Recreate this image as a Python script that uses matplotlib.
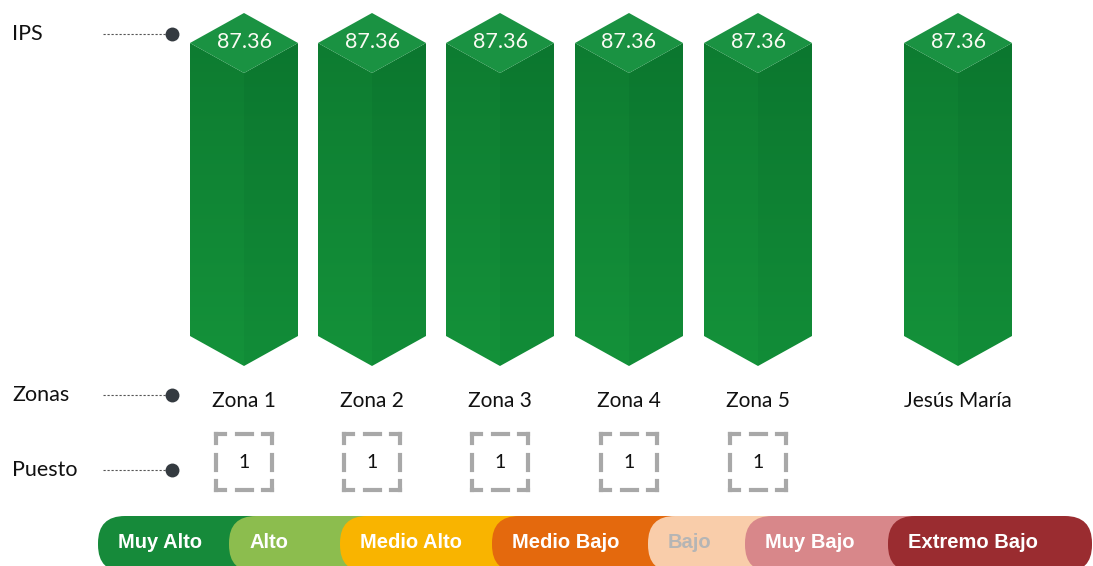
import numpy as np
import matplotlib.pyplot as plt
from matplotlib.patches import Polygon, FancyBboxPatch
from matplotlib.colors import LinearSegmentedColormap

# datos
zonas = ['Zona 1', 'Zona 2', 'Zona 3', 'Zona 4', 'Zona 5', 'Jesús María']
ips = [87.36, 87.36, 87.36, 87.36, 87.36, 87.36]
puesto = [1, 1, 1, 1, 1]
niveles = ['Muy Alto', 'Alto', 'Medio Alto', 'Medio Bajo', 'Bajo', 'Muy Bajo', 'Extremo Bajo']
colores_nivel = ['#168a3a', '#8cbd4e', '#f9b400', '#e4690d', '#f9cdaa', '#d8878a', '#9a2c30']
texto_nivel = ['white', 'white', 'white', 'white', '#b5b5b5', 'white', 'white']

# layout (pixeles)
W, H = 1093, 566
x_centros = [244, 372, 500, 629, 758, 958]
x_pildoras = [98, 229, 340, 492, 648, 745, 888]
fin_leyenda = 1092
y_top, y_base = 13, 366

fuente = 'Lato'

fig = plt.figure(figsize=(W / 100, H / 100), dpi=100)

# capa en pixeles: etiquetas, puestos y leyenda
ax = fig.add_axes([0, 0, 1, 1])
ax.set_xlim(0, W)
ax.set_ylim(H, 0)
ax.axis('off')

# columnas en unidades de IPS
axb = fig.add_axes([0, (H - y_base) / H, 1, (y_base - y_top) / H])
axb.axis('off')

px_unit = (y_base - y_top) / max(ips)
dv = 30 / px_unit
w = 54
grad = np.linspace(0, 1, 256).reshape(-1, 1)
cm_izq = LinearSegmentedColormap.from_list('izq', ['#14923a', '#0d7a30'])
cm_der = LinearSegmentedColormap.from_list('der', ['#128d38', '#0b752e'])

for cx, v in zip(x_centros, ips):
    izq = [(cx - w, v - dv), (cx, v - 2 * dv), (cx, 0), (cx - w, dv)]
    der = [(cx, v - 2 * dv), (cx + w, v - dv), (cx + w, dv), (cx, 0)]
    tapa = [(cx, v), (cx + w, v - dv), (cx, v - 2 * dv), (cx - w, v - dv)]
    for pts, cm in [(izq, cm_izq), (der, cm_der)]:
        poly = Polygon(pts, closed=True, facecolor='none', edgecolor='none')
        axb.add_patch(poly)
        im = axb.imshow(grad, extent=[cx - w, cx + w, 0, v], aspect='auto',
                        cmap=cm, origin='lower', interpolation='bilinear')
        im.set_clip_path(poly)
    axb.add_patch(Polygon(tapa, closed=True, facecolor='#1a9242', edgecolor='none'))
    axb.text(cx, v - dv * 0.95, f'{v:.2f}', color='#fbfbf3', fontsize=15.5,
             family=fuente, ha='center', va='center')

axb.set_xlim(0, W)
axb.set_ylim(0, max(ips))

# etiquetas de la izquierda
for txt, y in [('IPS', 34), ('Zonas', 395), ('Puesto', 470)]:
    ax.text(12, y, txt, fontsize=15.5, family=fuente, color='#111111', va='center', ha='left')
    ax.plot([103, 168], [y, y], ls=(0, (2, 1.6)), color='#555555', lw=0.8)
    ax.plot(172, y, 'o', ms=10, color='#343a40', mec='none')

# nombres de zonas
for cx, z in zip(x_centros, zonas):
    ax.text(cx, 401, z, fontsize=15, family=fuente, color='#111111', ha='center', va='center')

# puestos en cuadros punteados
s = 56
segs = [(0, 9), (20.5, 35.5), (47, 56)]
gris = '#a8a8a8'
for cx, p in zip(x_centros, puesto):
    x0, y0 = cx - s / 2, 462 - s / 2
    for a, b in segs:
        ax.plot([x0 + a, x0 + b], [y0, y0], color=gris, lw=3, solid_capstyle='projecting')
        ax.plot([x0 + a, x0 + b], [y0 + s, y0 + s], color=gris, lw=3, solid_capstyle='projecting')
        ax.plot([x0, x0], [y0 + a, y0 + b], color=gris, lw=3, solid_capstyle='projecting')
        ax.plot([x0 + s, x0 + s], [y0 + a, y0 + b], color=gris, lw=3, solid_capstyle='projecting')
    ax.text(cx, 462, str(p), fontsize=14, family=fuente, color='#111111', ha='center', va='center')

# leyenda de niveles
for i, (nv, col, tc) in enumerate(zip(niveles, colores_nivel, texto_nivel)):
    x0 = x_pildoras[i]
    x1 = x_pildoras[i + 1] + 60 if i + 1 < len(x_pildoras) else fin_leyenda
    ax.add_patch(FancyBboxPatch((x0, 516), x1 - x0, 56,
                                boxstyle='round,pad=0,rounding_size=27',
                                facecolor=col, edgecolor='none'))
    ax.text(x0 + 20, 543, nv, fontsize=14.5, family='Liberation Sans', fontweight='bold',
            color=tc, ha='left', va='center')

fig.savefig('out.png', dpi=100)
